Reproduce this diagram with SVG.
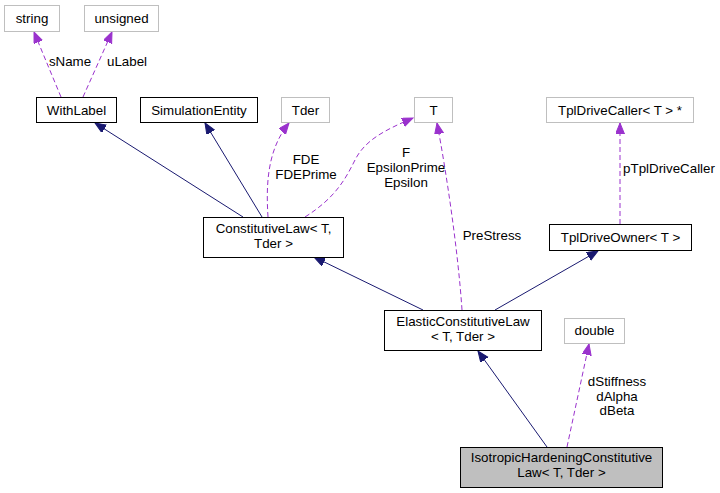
<svg xmlns="http://www.w3.org/2000/svg" width="720" height="493" viewBox="0 0 720 493">
<style>
text{font-family:"Liberation Sans",Arial,Helvetica,sans-serif;font-size:13.33px;fill:#000;text-anchor:middle}
.n{fill:#fff;stroke:#000;stroke-width:1}
.g{fill:#fff;stroke:#bfbfbf;stroke-width:1}
.s{fill:#bfbfbf;stroke:#000;stroke-width:1}
.inh{fill:none;stroke:#191970;stroke-width:1}
.use{fill:none;stroke:#9a32cd;stroke-width:1;stroke-dasharray:5,3}
</style>
<defs>
<marker id="ai" markerUnits="userSpaceOnUse" markerWidth="12" markerHeight="10" refX="11" refY="4.5" orient="auto">
<path d="M0,0 L11,4.5 L0,9 z" fill="#191970" stroke="#191970"/>
</marker>
<marker id="au" markerUnits="userSpaceOnUse" markerWidth="12" markerHeight="10" refX="11" refY="4.5" orient="auto">
<path d="M0,0 L11,4.5 L0,9 z" fill="#9a32cd" stroke="#9a32cd"/>
</marker>
</defs>
<rect width="720" height="493" fill="#fff"/>
<g id="connectors">
<path class="use" d="M61,97 L34,32" marker-end="url(#au)"/>
<path class="use" d="M83,97 L112,32" marker-end="url(#au)"/>
<path class="inh" d="M243,217 L95,123" marker-end="url(#ai)"/>
<path class="inh" d="M262,217 L205,123" marker-end="url(#ai)"/>
<path class="use" d="M268,217 C266,185 267,150 289,123" marker-end="url(#au)"/>
<path class="use" d="M305,217 C335,198 345,180 355,160 C365,140 385,130 413,118" marker-end="url(#au)"/>
<path class="inh" d="M423,310 L314,257" marker-end="url(#ai)"/>
<path class="use" d="M462,310 C458,250 446,170 437,123" marker-end="url(#au)"/>
<path class="inh" d="M495,310 L598,251" marker-end="url(#ai)"/>
<path class="use" d="M620,224 L620,123" marker-end="url(#au)"/>
<path class="inh" d="M547,447 L478,351" marker-end="url(#ai)"/>
<path class="use" d="M567,447 L589,344" marker-end="url(#au)"/>
<text x="70" y="66">sName</text>
<text x="127" y="66">uLabel</text>
<text x="306" y="164">FDE</text>
<text x="306" y="179">FDEPrime</text>
<text x="406" y="157">F</text>
<text x="406" y="172">EpsilonPrime</text>
<text x="406" y="187">Epsilon</text>
<text x="492" y="240">PreStress</text>
<text x="669" y="173">pTplDriveCaller</text>
<text x="617" y="386">dStiffness</text>
<text x="617" y="401">dAlpha</text>
<text x="617" y="415">dBeta</text>
</g>
<g id="node-string"><rect class="g" x="4.5" y="5.5" width="55" height="26"/><text x="32" y="23">string</text></g>
<g id="node-unsigned"><rect class="g" x="84.5" y="5.5" width="74" height="26"/><text x="121.5" y="23">unsigned</text></g>
<g id="node-WithLabel"><rect class="n" x="36.5" y="97.5" width="80" height="25"/><text x="76.5" y="115">WithLabel</text></g>
<g id="node-SimulationEntity"><rect class="n" x="140.5" y="97.5" width="117" height="25"/><text x="199" y="115">SimulationEntity</text></g>
<g id="node-Tder"><rect class="g" x="281.5" y="97.5" width="48" height="25"/><text x="305.5" y="115">Tder</text></g>
<g id="node-T"><rect class="g" x="414.5" y="97.5" width="38" height="25"/><text x="433.5" y="115">T</text></g>
<g id="node-TplDriveCaller"><rect class="g" x="546.5" y="97.5" width="147" height="25"/><text x="620" y="115">TplDriveCaller&lt; T &gt; *</text></g>
<g id="node-ConstitutiveLaw"><rect class="n" x="203.5" y="217.5" width="140" height="40"/><text x="273.5" y="233">ConstitutiveLaw&lt; T,</text><text x="273.5" y="248">Tder &gt;</text></g>
<g id="node-TplDriveOwner"><rect class="n" x="549.5" y="224.5" width="142" height="26"/><text x="620.5" y="242">TplDriveOwner&lt; T &gt;</text></g>
<g id="node-ElasticConstitutiveLaw"><rect class="n" x="384.5" y="310.5" width="157" height="40"/><text x="463" y="326">ElasticConstitutiveLaw</text><text x="463" y="341">&lt; T, Tder &gt;</text></g>
<g id="node-double"><rect class="g" x="564.5" y="318.5" width="60" height="25"/><text x="594.5" y="335">double</text></g>
<g id="node-IsotropicHardeningConstitutiveLaw"><rect class="s" x="460.5" y="447.5" width="202" height="40"/><text x="561.5" y="462">IsotropicHardeningConstitutive</text><text x="561.5" y="477">Law&lt; T, Tder &gt;</text></g>
</svg>
